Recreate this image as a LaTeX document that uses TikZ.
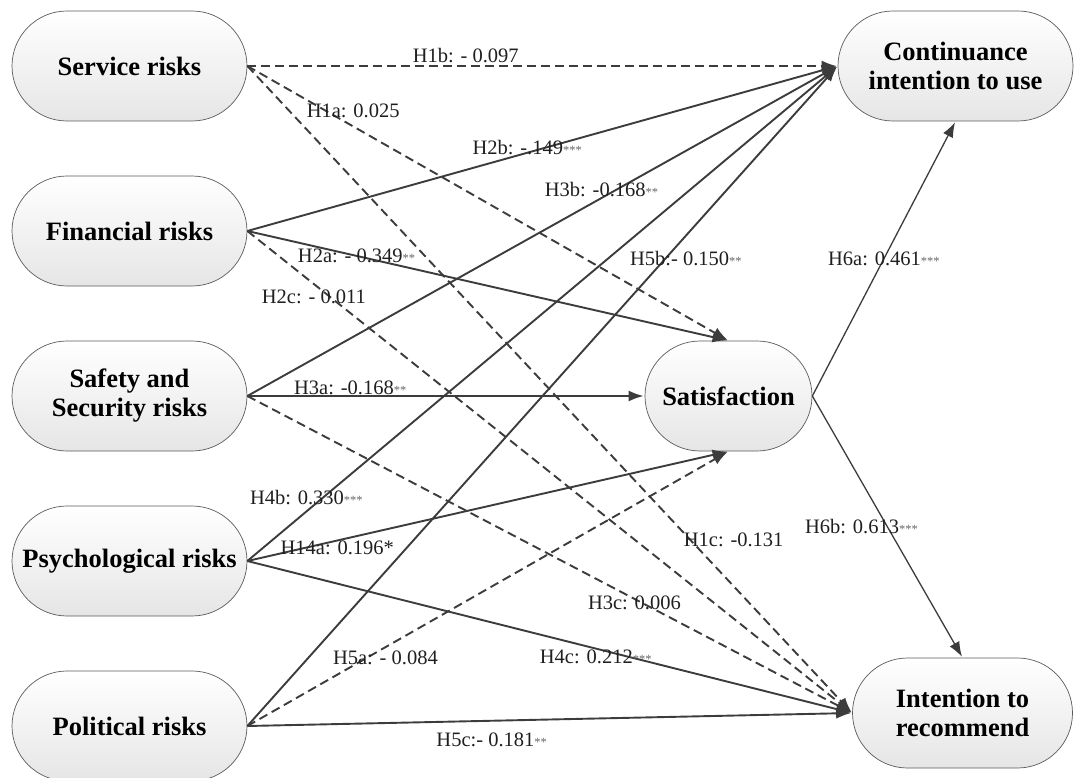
\documentclass[tikz,border=0pt]{standalone}
\usepackage{fontspec}
\setmainfont{Liberation Serif}
\usepackage{tikz}
\usetikzlibrary{positioning,arrows.meta}

\definecolor{linegray}{HTML}{3C3C3C}
\definecolor{boxline}{HTML}{5A5A5A}
\newcommand{\sigs}[1]{{\fontsize{12.5}{12}\selectfont\color{black!60}#1}}

\tikzset{
  factor/.style={draw=boxline, line width=0.7pt, rounded corners=55pt,
    minimum height=110pt, top color=white, bottom color=black!10,
    font=\fontsize{26.5}{29}\selectfont\bfseries, align=center, inner sep=0pt},
  coef/.style={font=\fontsize{20.5}{22}\selectfont, text=black!88, inner sep=0pt},
  dashlink/.style={dash pattern=on 9pt off 5pt},
  every edge/.style={draw=linegray, line width=1.9pt},
}

\begin{document}
\begin{tikzpicture}[x=1pt,y=-1pt,node distance=165pt,on grid,
    >={Latex[length=15pt,width=11pt]},shorten >=1pt]
  \useasboundingbox (0,0) rectangle (1075,778);
  % risk dimensions
  \node[factor,minimum width=235pt] (serv) at (129.5,66) {Service risks};
  \node[factor,minimum width=235pt] (fin)  [below=of serv] {Financial risks};
  \node[factor,minimum width=235pt] (safe) [below=of fin]  {Safety and\\Security risks};
  \node[factor,minimum width=235pt] (psy)  [below=of safe] {Psychological risks};
  \node[factor,minimum width=235pt] (pol)  [below=of psy]  {Political risks};
  % outcomes
  \node[factor,minimum width=235pt] (cont) at (955.5,66)  {Continuance\\intention to use};
  \node[factor,minimum width=167pt] (sat)  at (728.5,396) {Satisfaction};
  \node[factor,minimum width=220pt] (rec)  at (962.5,713) {Intention to\\recommend};

  \path[->]
  (serv.east) edge[dashlink] node[coef,pos=.37,yshift=10pt] {H1b: - 0.097} (cont.west)
              edge[dashlink] node[coef,pos=.22,yshift=16pt] {H1a: 0.025} (sat.north)
              edge[dashlink] node[coef,pos=.733,xshift=43pt] {H1c: -0.131} (rec.west)
  (fin.east)  edge node[coef,pos=.474,yshift=5pt] {H2b: -.149\sigs{***}} (cont.west)
              edge node[coef,pos=.227] {H2a: - 0.349\sigs{**}} (sat.north)
              edge[dashlink] node[coef,pos=.11,yshift=-13pt] {H2c: - 0.011} (rec.west)
  (safe.east) edge node[coef,pos=.6,yshift=8pt] {H3b: -0.168\sigs{**}} (cont.west)
              edge node[coef,pos=.259,yshift=8pt] {H3a: -0.168\sigs{**}} (sat.west)
              edge[dashlink] node[coef,pos=.64,yshift=-4pt] {H3c: 0.006} (rec.west)
  (psy.east)  edge node[coef,pos=.1,yshift=14pt] {H4b: 0.330\sigs{***}} (cont.west)
              edge node[coef,pos=.187,yshift=-7pt] {H14a: 0.196*} (sat.south)
              edge node[coef,pos=.576,yshift=-8pt] {H4c: 0.212\sigs{***}} (rec.west)
  (pol.east)  edge node[coef,pos=.709,xshift=20pt] {H5b:- 0.150\sigs{**}} (cont.west)
              edge[dashlink] node[coef,pos=.287,yshift=-11pt] {H5a: - 0.084} (sat.south)
              edge node[coef,pos=.404,yshift=-19pt] {H5c:- 0.181\sigs{**}} (rec.west)
  (sat.east)  edge[line width=1.3pt] node[coef,pos=.5] {H6a: 0.461\sigs{***}} (cont.south)
              edge[line width=1.3pt] node[coef,pos=.5,xshift=-26pt] {H6b: 0.613\sigs{***}} (rec.north);
\end{tikzpicture}
\end{document}
